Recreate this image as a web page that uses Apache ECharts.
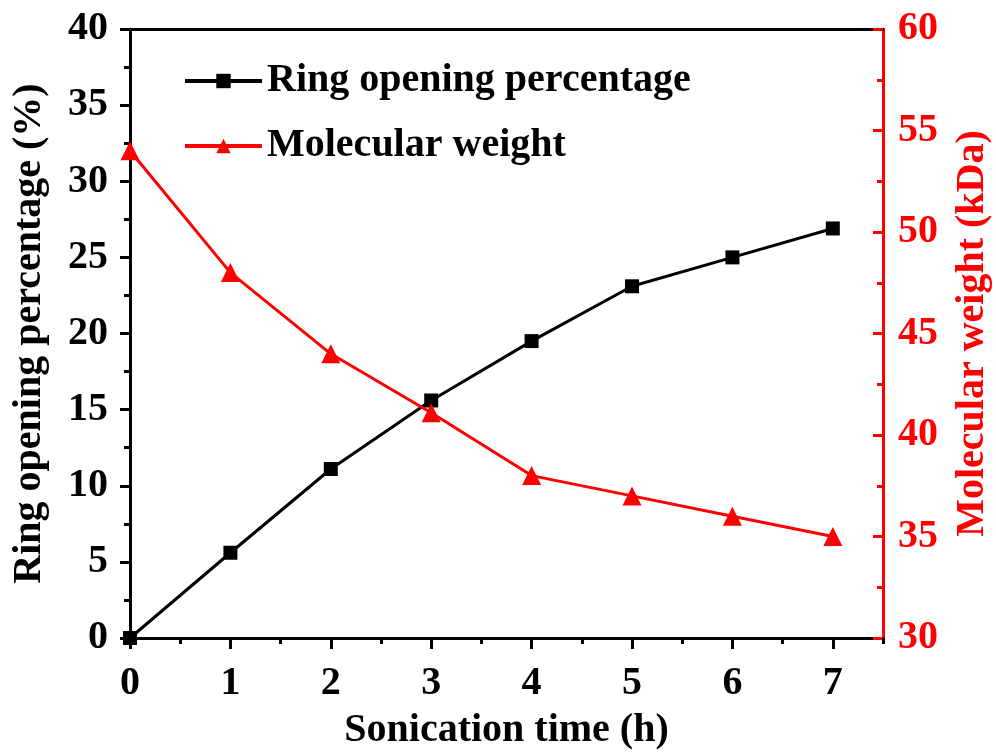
<!DOCTYPE html>
<html><head><meta charset="utf-8">
<script src="https://cdn.jsdelivr.net/npm/echarts@6/dist/echarts.min.js"></script>
<style>html,body{margin:0;padding:0;background:#fff}#c{width:996px;height:752px}</style>
</head><body><div id="c"></div>
<script>
const hours = [0, 1, 2, 3, 4, 5, 6, 7];
const ringOpening = [0, 5.6, 11.1, 15.6, 19.5, 23.1, 25.0, 26.9];
const molWeight = [54.0, 48.0, 44.0, 41.1, 38.0, 37.0, 36.0, 35.0];
const seriesNames = ['Ring opening percentage', 'Molecular weight'];
const xTickLabels = [0, 1, 2, 3, 4, 5, 6, 7];

const F = '"Liberation Serif","Times New Roman",serif';
const FS = 40;
const chart = echarts.init(document.getElementById('c'));
chart.setOption({
  animation: false,
  backgroundColor: '#fff',
  grid: {left: 130, right: 113, top: 29, bottom: 114, containLabel: false, outerBoundsMode: 'none'},
  legend: {
    left: 178, top: 56, orient: 'vertical', itemGap: 25,
    itemWidth: 77, itemHeight: 18,
    lineStyle: {width: 4},
    textStyle: {fontFamily: F, fontWeight: 'bold', fontSize: FS, color: '#000'},
    data: seriesNames
  },
  xAxis: [{
    type: 'value', min: 0, max: 7.5, interval: 1, position: 'bottom',
    name: 'Sonication time (h)', nameLocation: 'middle', nameGap: 73,
    nameTextStyle: {fontFamily: F, fontWeight: 'bold', fontSize: FS, color: '#000'},
    axisLine: {onZero: false, lineStyle: {color: '#000', width: 3}},
    axisTick: {length: 11, customValues: xTickLabels, lineStyle: {width: 3, color: '#000'}},
    axisLabel: {fontFamily: F, fontWeight: 'bold', fontSize: FS, color: '#000', margin: 26,
      customValues: xTickLabels},
    splitLine: {show: false}
  }, {
    type: 'value', position: 'top', min: 0, max: 7.5,
    axisLine: {onZero: false, lineStyle: {color: '#000', width: 3}},
    axisTick: {show: false}, axisLabel: {show: false}, splitLine: {show: false}
  }, {
    type: 'value', position: 'bottom', min: 0, max: 7.5, interval: 0.5,
    axisLine: {show: false, onZero: false},
    axisTick: {length: 6, lineStyle: {width: 3, color: '#000'}},
    axisLabel: {show: false}, splitLine: {show: false}
  }],
  yAxis: [{
    type: 'value', min: 0, max: 40, interval: 5, position: 'left',
    name: 'Ring opening percentage (%)', nameLocation: 'middle', nameGap: 80, nameRotate: 90,
    nameTextStyle: {fontFamily: F, fontWeight: 'bold', fontSize: FS, color: '#000'},
    axisLine: {show: true, onZero: false, lineStyle: {color: '#000', width: 3}},
    axisTick: {length: 10, lineStyle: {width: 3, color: '#000'}},
    minorTick: {show: true, splitNumber: 2, length: 6, lineStyle: {width: 3, color: '#000'}},
    axisLabel: {fontFamily: F, fontWeight: 'bold', fontSize: FS, color: '#000', margin: 22},
    splitLine: {show: false}
  }, {
    type: 'value', min: 30, max: 60, interval: 5, position: 'right',
    name: 'Molecular weight (kDa)', nameLocation: 'middle', nameGap: 70, nameRotate: 90,
    nameTextStyle: {fontFamily: F, fontWeight: 'bold', fontSize: FS, color: '#ff0000'},
    axisLine: {show: true, onZero: false, lineStyle: {color: '#ff0000', width: 3}},
    axisTick: {inside: true, length: 10, lineStyle: {width: 3, color: '#ff0000'}},
    minorTick: {show: true, splitNumber: 2, length: 6, lineStyle: {width: 3, color: '#ff0000'}},
    axisLabel: {fontFamily: F, fontWeight: 'bold', fontSize: FS, color: '#ff0000', margin: 15},
    splitLine: {show: false}
  }],
  series: [{
    name: seriesNames[0], type: 'line', xAxisIndex: 0, yAxisIndex: 0,
    data: hours.map((h, i) => [h, ringOpening[i]]),
    symbol: 'rect', symbolSize: 14,
    lineStyle: {color: '#000', width: 3}, itemStyle: {color: '#000'}
  }, {
    name: seriesNames[1], type: 'line', xAxisIndex: 0, yAxisIndex: 1,
    data: hours.map((h, i) => [h, molWeight[i]]),
    symbol: 'triangle', symbolSize: 19,
    lineStyle: {color: '#ff0000', width: 3}, itemStyle: {color: '#ff0000'}
  }]
});
</script></body></html>
